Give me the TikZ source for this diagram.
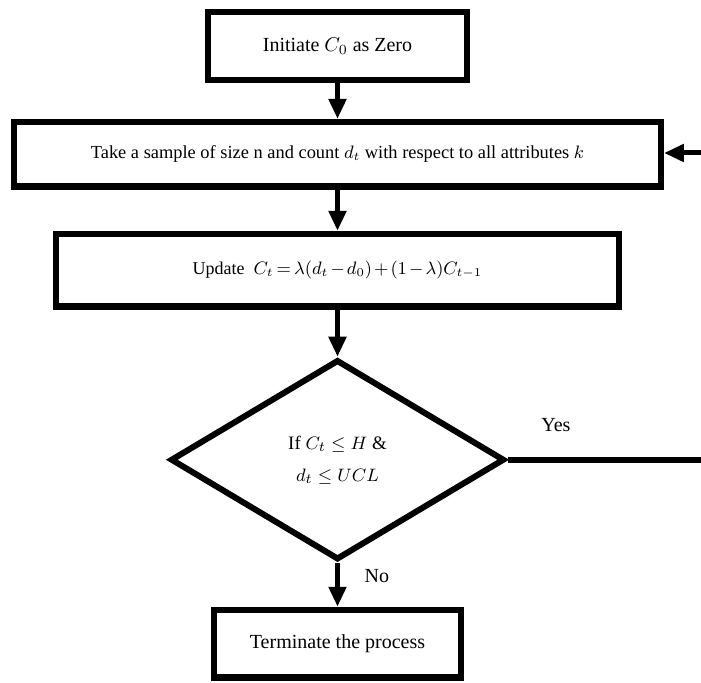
\documentclass[tikz,border=0pt]{standalone}
\usepackage{fontspec}
\setmainfont{Liberation Serif}
\usetikzlibrary{shapes.geometric, arrows.meta, positioning}

\begin{document}
\begin{tikzpicture}[x=0.5pt, y=-0.5pt, >={Triangle[length=10pt, width=8.5pt]},
    box/.style={draw, line width=3.2pt, inner sep=0pt, font=\fontsize{10}{12}\selectfont},
    decision/.style={draw, diamond, line width=3pt, minimum width=167pt, minimum height=100pt, inner sep=0pt, align=center, font=\fontsize{9.5}{16}\selectfont},
    flow/.style={->, line width=2.5pt},
    link/.style={line width=3pt}]
    \useasboundingbox (0,0) rectangle (701,683);
    % Nodes
    \node[box, minimum width=129.25pt, minimum height=33.75pt] (init) at (337.5,46) {Initiate $C_0$ as Zero};
    \node[box, minimum width=323.25pt, minimum height=32.25pt, below=18pt of init, font=\fontsize{9.2}{12}\selectfont] (sample) {Take a sample of size n and count $d_t$ with respect to all attributes $k$};
    \node[box, minimum width=281.75pt, minimum height=36.25pt, below=20.5pt of sample, font=\fontsize{9}{12}\selectfont] (update) {Update \ $\thickmuskip=3mu \medmuskip=2mu C_t = \lambda(d_t - d_0) + (1 - \lambda)C_{t-1}$};
    \node[decision, below=23.5pt of update] (check) {If $C_t \leq H$ \&\\ $d_t \leq UCL$};
    \node[box, minimum width=123.25pt, minimum height=33.75pt, below=22pt of check] (stop) {Terminate the process};
    \coordinate (back) at (701,153);
    \coordinate (exit) at (701,460);

    % Arrows
    \draw[flow] (init) -- (sample);
    \draw[flow] (sample) -- (update);
    \draw[flow] (update) -- (check);
    \draw[flow] (check) -- node[right=9pt, pos=0.3, font=\fontsize{10}{12}\selectfont] {No} (stop);
    \draw[link] (check.east) -- node[above=9pt, pos=0.25, font=\fontsize{10}{12}\selectfont] {Yes} (check.east -| exit);
    \draw[flow] (back) -- (back -| sample.east);
\end{tikzpicture}
\end{document}
